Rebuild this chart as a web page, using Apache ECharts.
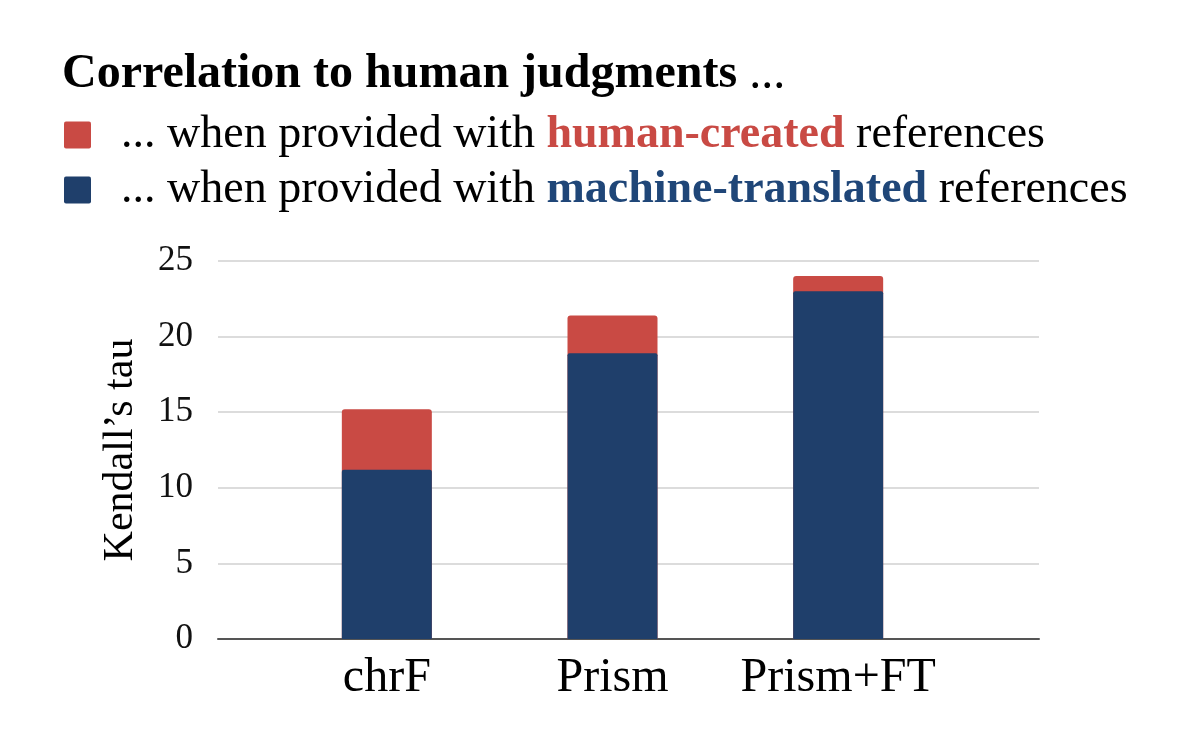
<!DOCTYPE html>
<html>
<head>
<meta charset="utf-8">
<script src="https://cdn.jsdelivr.net/npm/echarts@6/dist/echarts.min.js"></script>
<style>
html,body{margin:0;padding:0;background:#fff;}
#chart{width:1200px;height:744px;}
</style>
</head>
<body>
<div id="chart"></div>
<script>
const categories = ['chrF', 'Prism', 'Prism+FT'];
const humanCreated = [15.2, 21.4, 24.0];
const machineTranslated = [11.2, 18.9, 23.0];
const yTicks = { min: 0, max: 25, interval: 5 };

const RED = '#C94A44';
const BLUE = '#1F3F6B';
const FONT = '"Liberation Serif", "Times New Roman", Times, serif';

const chart = echarts.init(document.getElementById('chart'), null, { renderer: 'canvas' });

const option = {
  backgroundColor: '#ffffff',
  animation: false,
  title: {
    left: 62,
    top: 51,
    padding: 0,
    text: '{b|Correlation to human judgments}{r| ...}',
    textStyle: {
      rich: {
        b: { fontFamily: FONT, fontSize: 48, fontWeight: 'bold', color: '#000', lineHeight: 48 },
        r: { fontFamily: FONT, fontSize: 48, fontWeight: 'normal', color: '#000', lineHeight: 48 }
      }
    }
  },
  legend: {
    orient: 'vertical',
    left: 64,
    top: 112,
    padding: 0,
    itemGap: 9,
    itemWidth: 27,
    itemHeight: 27,
    icon: 'path://M2,0H25Q27,0 27,2V25Q27,27 25,27H2Q0,27 0,25V2Q0,0 2,0Z',
    data: ['human-created', 'machine-translated'],
    selectedMode: false,
    formatter: function (name) {
      const tag = name === 'human-created' ? 'h' : 'm';
      return '{g|}{t|... when provided with }{' + tag + '|' + name + '}{t| references}';
    },
    textStyle: {
      rich: {
        g: { width: 25, height: 46 },
        t: { fontFamily: FONT, fontSize: 46, color: '#000', lineHeight: 46 },
        h: { fontFamily: FONT, fontSize: 46, fontWeight: 'bold', color: RED, lineHeight: 46 },
        m: { fontFamily: FONT, fontSize: 46, fontWeight: 'bold', color: '#1F4678', lineHeight: 46 }
      }
    }
  },
  grid: [
    { left: 218, right: 161, top: 261, bottom: 105 },
    { left: 274, right: 249, top: 261, bottom: 105 }
  ],
  xAxis: [
    {
      type: 'category', gridIndex: 0, data: [''],
      axisLine: { show: true, lineStyle: { color: '#555', width: 2 } },
      axisTick: { show: false }, axisLabel: { show: false }, splitLine: { show: false }
    },
    {
      type: 'category', gridIndex: 1, data: categories,
      axisLine: { show: false }, axisTick: { show: false },
      axisLabel: { fontFamily: FONT, fontSize: 48, color: '#000', margin: 15, interval: 0 }
    }
  ],
  yAxis: [
    {
      type: 'value', gridIndex: 0, min: yTicks.min, max: yTicks.max, interval: yTicks.interval,
      name: 'Kendall’s tau',
      nameLocation: 'middle',
      nameGap: 76,
      nameTextStyle: { fontFamily: FONT, fontSize: 42, color: '#000' },
      axisLine: { show: false }, axisTick: { show: false },
      axisLabel: { fontFamily: FONT, fontSize: 35, color: '#111', margin: 25 },
      splitLine: { show: true, lineStyle: { color: '#DCDCDC', width: 2 } }
    },
    {
      type: 'value', gridIndex: 1, min: yTicks.min, max: yTicks.max, interval: yTicks.interval,
      show: false, splitLine: { show: false }
    }
  ],
  series: [
    {
      name: 'human-created', type: 'bar', xAxisIndex: 1, yAxisIndex: 1,
      data: humanCreated, barWidth: 90, barGap: '-100%',
      itemStyle: { color: RED, borderRadius: [3, 3, 0, 0] }
    },
    {
      name: 'machine-translated', type: 'bar', xAxisIndex: 1, yAxisIndex: 1,
      data: machineTranslated, barWidth: 90, barGap: '-100%',
      itemStyle: { color: BLUE, borderRadius: [2, 2, 0, 0] }
    }
  ]
};

chart.setOption(option);
</script>
</body>
</html>
